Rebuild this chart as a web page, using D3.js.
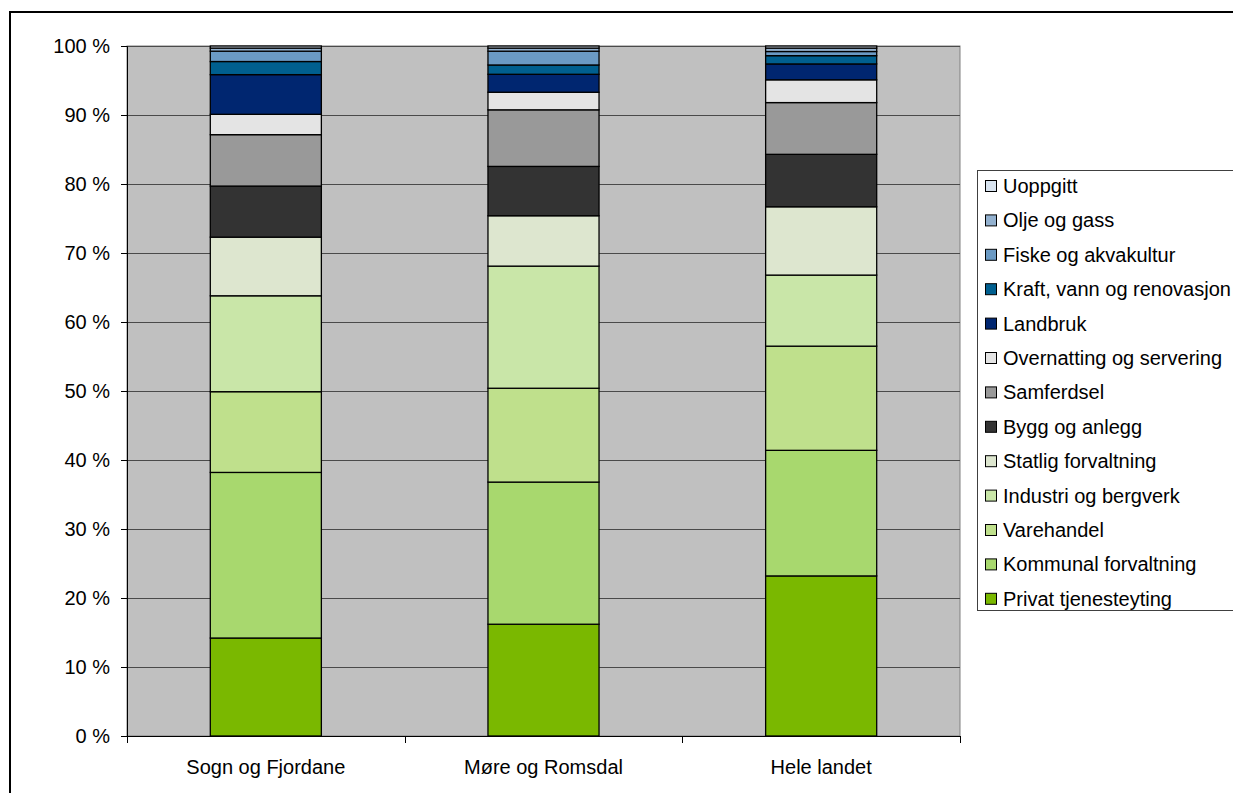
<!DOCTYPE html>
<html>
<head>
<meta charset="utf-8">
<script src="https://cdn.jsdelivr.net/npm/d3@7"></script>
<style>
  html, body { margin: 0; padding: 0; background: #fff; }
  svg { display: block; font-family: Arial, "Liberation Sans", sans-serif; }
</style>
</head>
<body>
<svg id="chart" width="1233" height="793"></svg>
<script>
// Regions (categories)
const categories = ["Sogn og Fjordane", "Møre og Romsdal", "Hele landet"];

// Share of employment per industry, percent, bottom to top of each column
const privatTjenesteyting   = [14.2, 16.2, 23.2];
const kommunalForvaltning   = [24.0, 20.6, 18.2];
const varehandel            = [11.7, 13.6, 15.1];
const industriOgBergverk    = [13.9, 17.7, 10.3];
const statligForvaltning    = [8.5, 7.3, 9.9];
const byggOgAnlegg          = [7.4, 7.15, 7.6];
const samferdsel            = [7.45, 8.2, 7.5];
const overnattingServering  = [2.95, 2.55, 3.3];
const landbruk              = [5.75, 2.6, 2.3];
const kraftVannRenovasjon   = [1.9, 1.35, 1.2];
const fiskeOgAkvakultur     = [1.5, 2.0, 0.6];
const oljeOgGass            = [0.45, 0.45, 0.5];
const uoppgitt              = [0.3, 0.3, 0.3];

const seriesNames = [
  "Privat tjenesteyting", "Kommunal forvaltning", "Varehandel",
  "Industri og bergverk", "Statlig forvaltning", "Bygg og anlegg",
  "Samferdsel", "Overnatting og servering", "Landbruk",
  "Kraft, vann og renovasjon", "Fiske og akvakultur", "Olje og gass", "Uoppgitt"
];
const seriesValues = [
  privatTjenesteyting, kommunalForvaltning, varehandel, industriOgBergverk,
  statligForvaltning, byggOgAnlegg, samferdsel, overnattingServering,
  landbruk, kraftVannRenovasjon, fiskeOgAkvakultur, oljeOgGass, uoppgitt
];
const seriesColors = [
  "#7ab800", "#a8d86e", "#bfe08c", "#c9e6a8", "#dde6cf", "#333333",
  "#999999", "#e4e4e4", "#002670", "#005f8f", "#6b9ac4", "#93b1cf", "#d8e3ef"
];
const yTickValues = [0, 10, 20, 30, 40, 50, 60, 70, 80, 90, 100];

// Build a table of rows (one per region) for d3.stack
const rows = categories.map((c, i) => {
  const r = { region: c };
  seriesNames.forEach((s, k) => { r[s] = seriesValues[k][i]; });
  return r;
});
const stacked = d3.stack().keys(seriesNames)
  .offset(d3.stackOffsetExpand)(rows);

const svg = d3.select("#chart");
const plot = { left: 127, right: 960, top: 46, bottom: 736 };
const fontSize = 20;

const x = d3.scaleBand().domain(categories)
  .range([plot.left, plot.right]).paddingInner(0.6).paddingOuter(0.3);
const y = d3.scaleLinear().domain([0, 100]).range([plot.bottom, plot.top]);

// Outer chart frame
svg.append("path")
  .attr("d", `M10,800 L10,12 L1240,12`)
  .attr("fill", "none").attr("stroke", "#000").attr("stroke-width", 2);

// Plot area background
svg.append("rect")
  .attr("x", plot.left).attr("y", plot.top)
  .attr("width", plot.right - plot.left).attr("height", plot.bottom - plot.top)
  .attr("fill", "#c0c0c0").attr("stroke", "#808080").attr("stroke-width", 1);

// Horizontal gridlines
svg.append("g").selectAll("line")
  .data(yTickValues.filter(v => v > 0))
  .join("line")
  .attr("x1", plot.left).attr("x2", plot.right)
  .attr("y1", d => Math.round(y(d)) + 0.5).attr("y2", d => Math.round(y(d)) + 0.5)
  .attr("stroke", "#4a4a4a").attr("stroke-width", 1);

// Stacked bars
const barGroups = svg.append("g").selectAll("g")
  .data(stacked)
  .join("g")
  .attr("fill", (d, i) => seriesColors[i]);

barGroups.selectAll("rect")
  .data(d => d.map((seg, i) => ({ seg, region: categories[i] })))
  .join("rect")
  .attr("x", d => x(d.region))
  .attr("width", x.bandwidth())
  .attr("y", d => y(d.seg[1] * 100))
  .attr("height", d => y(d.seg[0] * 100) - y(d.seg[1] * 100))
  .attr("stroke", "#000").attr("stroke-width", 1.3);

// Y axis
const yAxis = d3.axisLeft(y).tickValues(yTickValues)
  .tickFormat(d => d + " %").tickSize(6).tickPadding(11);
const gy = svg.append("g").attr("transform", `translate(${plot.left},0)`).call(yAxis);
gy.attr("font-family", null);
gy.select(".domain").attr("stroke", "#000");
gy.selectAll(".tick line").attr("stroke", "#000");
gy.selectAll(".tick text").attr("font-size", fontSize).attr("fill", "#000");

// X axis: ticks sit on the category boundaries
const boundaries = d3.range(categories.length + 1).map(i => plot.left + i * x.step());
const gx = svg.append("g");
gx.append("line")
  .attr("x1", plot.left).attr("x2", plot.right)
  .attr("y1", plot.bottom + 0.5).attr("y2", plot.bottom + 0.5)
  .attr("stroke", "#000");
gx.selectAll("line.tick")
  .data(boundaries)
  .join("line").attr("class", "tick")
  .attr("x1", d => Math.round(d) + 0.5).attr("x2", d => Math.round(d) + 0.5)
  .attr("y1", plot.bottom).attr("y2", plot.bottom + 7)
  .attr("stroke", "#000");
gx.selectAll("text")
  .data(categories)
  .join("text")
  .attr("x", d => x(d) + x.bandwidth() / 2)
  .attr("y", 774)
  .attr("text-anchor", "middle")
  .attr("font-size", fontSize)
  .text(d => d);

// Legend (top entry is the topmost series)
const legend = svg.append("g");
legend.append("rect")
  .attr("x", 977.5).attr("y", 170.5).attr("width", 300).attr("height", 440)
  .attr("fill", "#fff").attr("stroke", "#404040").attr("stroke-width", 1);

const legendItems = seriesNames.map((s, i) => ({ name: s, color: seriesColors[i] })).reverse();
const rowStep = 34.4;
const items = legend.selectAll("g.item")
  .data(legendItems)
  .join("g").attr("class", "item")
  .attr("transform", (d, i) => `translate(0,${186 + i * rowStep})`);
items.append("rect")
  .attr("x", 985.5).attr("y", -5.5).attr("width", 11).attr("height", 11)
  .attr("fill", d => d.color).attr("stroke", "#000").attr("stroke-width", 1);
items.append("text")
  .attr("x", 1003).attr("y", 7)
  .attr("font-size", fontSize)
  .text(d => d.name);
</script>
</body>
</html>
